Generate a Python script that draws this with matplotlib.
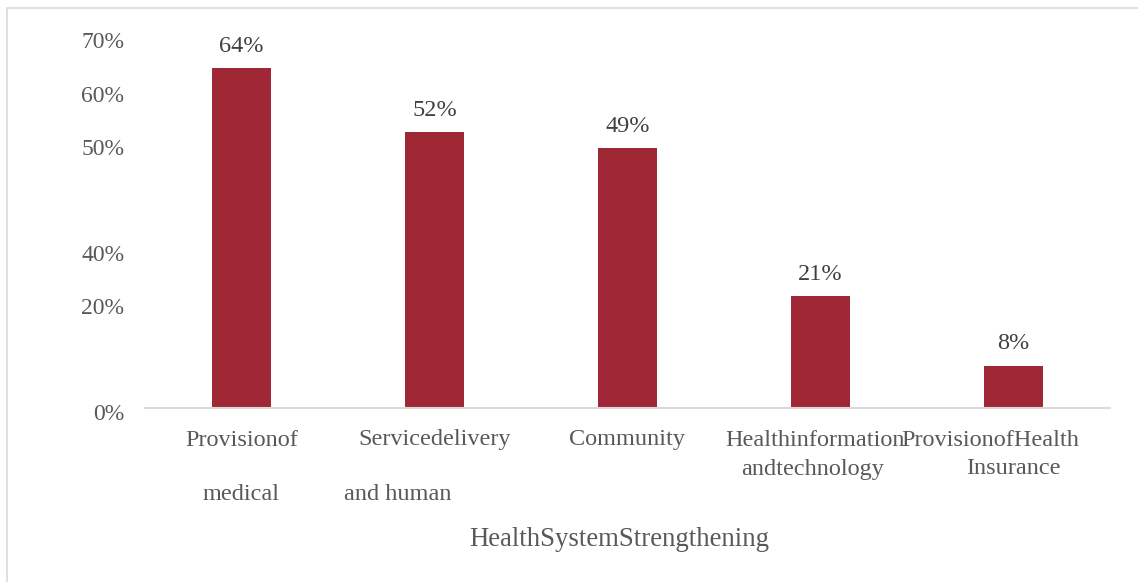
import matplotlib.pyplot as plt
from matplotlib.patches import Rectangle
from matplotlib.transforms import blended_transform_factory, ScaledTranslation

plt.rcParams['font.family'] = 'Liberation Serif'

# survey results
categories = ['Provision of medical', 'Service delivery and human', 'Community',
              'Health information and technology', 'Provision of Health Insurance']
values = [0.64, 0.52, 0.49, 0.21, 0.08]
value_labels = ['64%', '52%', '49%', '21%', '8%']

# axis labels as they appear under each bar (first line, second line)
label_line1 = ['Provisionof', 'Servicedelivery', 'Community', 'Healthinformation', 'ProvisionofHealth']
label_line2 = ['medical', 'and human', '', 'andtechnology', 'Insurance']

ytick_pos = [0.0, 0.2, 0.3, 0.5, 0.6, 0.7]
ytick_labels = ['0%', '20%', '40%', '50%', '60%', '70%']

bar_color = '#A02735'
text_grey = '#595959'

fig = plt.figure(figsize=(11.38, 5.82), dpi=100)
ax = fig.add_axes([0.1274, 0.299, 0.848, 0.6386])

x = range(len(values))
ax.bar(x, values, width=0.31, color=bar_color)
ax.set_xlim(-0.5, 4.5)
ax.set_ylim(0, 0.7)

for xi, v, lab in zip(x, values, value_labels):
    ax.annotate(lab, (xi, v), xytext=(0, 8), textcoords='offset points',
                ha='center', va='bottom', fontsize=17.5, color='#404040')

ax.set_yticks(ytick_pos)
ax.set_yticklabels(ytick_labels, fontsize=17, color=text_grey)
ax.tick_params(axis='y', length=0, pad=15)
ax.set_xticks([])
shift = ScaledTranslation(0, -3 / 72, fig.dpi_scale_trans)
for t in ax.get_yticklabels():
    t.set_transform(t.get_transform() + shift)

for s in ['top', 'right', 'left']:
    ax.spines[s].set_visible(False)
ax.spines['bottom'].set_color('#D9D9D9')
ax.spines['bottom'].set_linewidth(1.5)

# category labels below the axis, with the odd spacing of the source layout
trans = blended_transform_factory(ax.transData, fig.transFigure)
line1_shift = [0, 0, 0, -0.03, -0.12]
line2_shift = [0, -0.19, 0, -0.04, 0]
line2_y = [494, 494, 494, 469, 469]
for i in x:
    ax.text(i + line1_shift[i], 1 - 440 / 582, label_line1[i], transform=trans,
            ha='center', va='center', fontsize=17.5, color=text_grey)
    if label_line2[i]:
        ax.text(i + line2_shift[i], 1 - line2_y[i] / 582, label_line2[i], transform=trans,
                ha='center', va='center', fontsize=17.5, color=text_grey)

fig.text(619 / 1138, 1 - 539 / 582, 'HealthSystemStrengthening',
         ha='center', va='center', fontsize=19.3, color=text_grey)

# thin frame around the chart area
fig.patches.append(Rectangle((7 / 1138, -0.05), 1.0, 1 - 8 / 582 + 0.05,
                             transform=fig.transFigure, fill=False,
                             edgecolor='#D9D9D9', linewidth=1.2))

fig.savefig('out.png', dpi=100)
